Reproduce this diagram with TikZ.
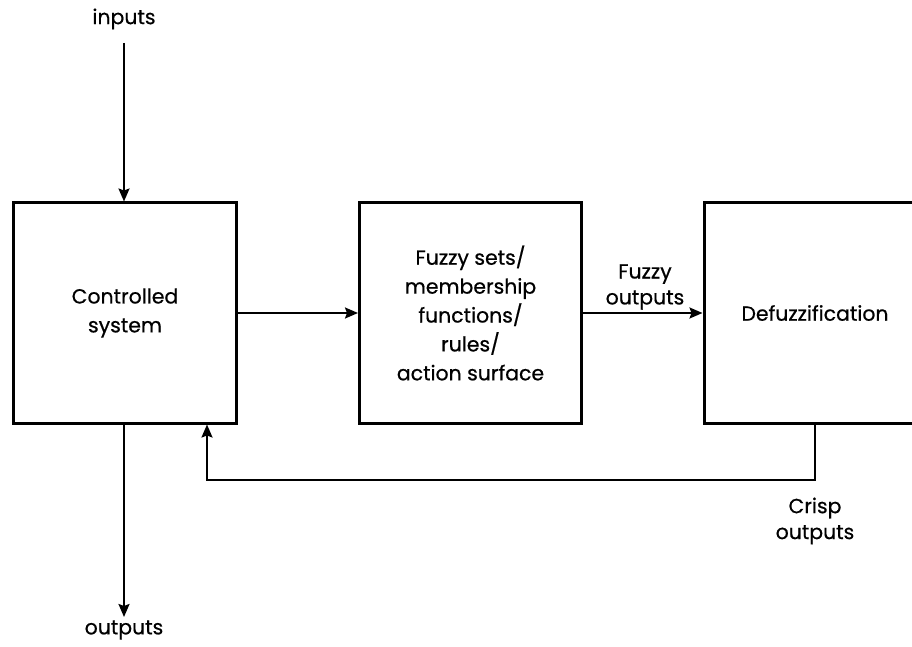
\documentclass[tikz,border=0pt]{standalone}
\usepackage{fontspec}
\setmainfont{Poppins}[BoldFont=Poppins, BoldFeatures={FakeBold=0.6}]
\usetikzlibrary{arrows.meta}
\begin{document}
\begin{tikzpicture}[x=1bp,y=-1bp,
  box/.style={draw, line width=3bp, minimum width=222bp, minimum height=220bp,
    inner sep=0pt, align=center, font=\fontsize{20.5}{29}\selectfont\bfseries},
  lbl/.style={align=center, inner sep=0pt, font=\fontsize{20.5}{26}\selectfont\bfseries},
  conn/.style={line width=2bp, -{Stealth[length=13bp,width=11bp,inset=2bp]}}]
\useasboundingbox (0,0) rectangle (912,647);
\fill[white] (0,0) rectangle (912,647);
\node[box] (cs) at (125,313) {Controlled\\system};
\node[box] (fz) at (470.5,313) {Fuzzy sets/\\membership\\functions/\\rules/\\action surface};
\node[box] (df) at (815,313) {Defuzzification};
\node[lbl] (in) at (124,19) {inputs};
\node[lbl] (out) at (124,630) {outputs};
\node[lbl] (fo) at (645,287) {Fuzzy\\outputs};
\node[lbl] (co) at (815,521) {Crisp\\outputs};
\coordinate (inTop) at (124,43);
\coordinate (outTip) at (124,617);
\coordinate (fb) at (207,480);
\draw[conn] (inTop) -- (inTop |- cs.north);
\draw[conn] (outTip |- cs.south) -- (outTip);
\draw[conn] (cs.east) -- (fz.west);
\draw[conn] (fz.east) -- (df.west);
\draw[conn] (df.south) |- (fb) -- (fb |- cs.south);
\end{tikzpicture}
\end{document}
